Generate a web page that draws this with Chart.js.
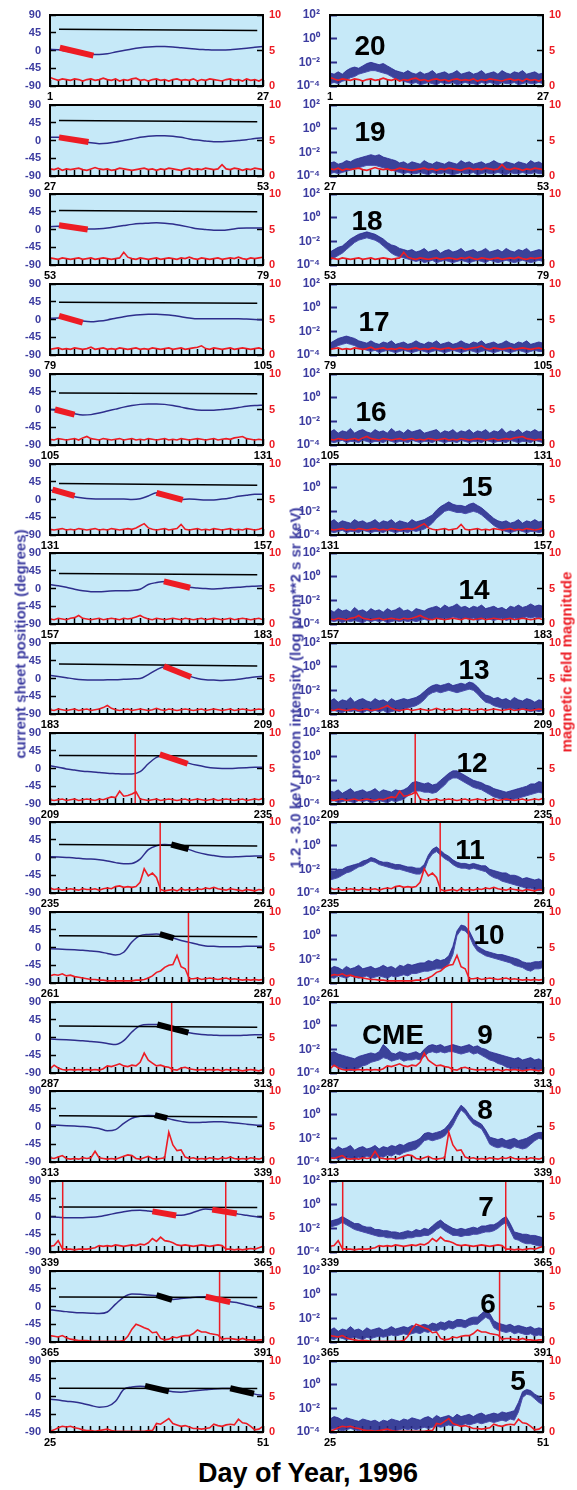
<!DOCTYPE html>
<html><head><meta charset="utf-8">
<script src="https://cdn.jsdelivr.net/npm/chart.js@4.4.1/dist/chart.umd.min.js"></script>
<style>
html,body{margin:0;padding:0;background:#fff;}
body{width:577px;height:1490px;position:relative;overflow:hidden;font-family:'Liberation Sans',Arial,sans-serif;}
canvas{position:absolute;}
.num{position:absolute;z-index:5;font-weight:bold;font-size:28px;color:#000;transform:translate(-50%,-50%);line-height:1;white-space:nowrap;}
.vt{position:absolute;z-index:5;font-weight:bold;font-size:15px;line-height:1;white-space:nowrap;transform:translate(-50%,-50%) rotate(-90deg);}
.xt{position:absolute;z-index:5;font-weight:bold;font-size:27px;line-height:1;color:#000;white-space:nowrap;transform:translate(-50%,-50%);}
</style></head><body>
<script>
// ---------------- DATA ----------------
const START_DAYS = [1,27,53,79,105,131,157,183,209,235,261,287,313,339,365,25];
const PANEL_NUMBERS = ['20','19','18','17','16','15','14','13','12','11','10','9','8','7','6','5'];
const LEFT_TICKS = [-90,-45,0,45,90];
const B_TICKS = [0,5,10];
const LOG_TICK_VALUES = [1e-4,1e-2,1,100];
const LOG_TICK_LABELS = ['10\u207B\u2074','10\u207B\u00B2','10\u2070','10\u00B2'];

// current sheet position (degrees), one value per day (day offset 0..26)
const SHEET = [
 [3,2,-2,-5,-8,-10,-10,-8,-4,0, 4,7,9,10,10,9,7,5,3,2, 1,1,2,4,6,8,10],
 [8,8,6,2,-2,-6,-8,-7,-4,0, 4,8,11,12,12,11,8,4,1,-1, -3,-3,-2,0,2,5,7],
 [7,8,8,5,2,1,2,4,7,10, 13,15,16,17,16,14,10,6,2,0, -2,-2,0,3,4,4,4],
 [3,4,3,0,-4,-6,-4,-1,3,7, 10,12,13,13,12,10,7,4,2,2, 2,2,2,2,1,0,-1],
 [0,-2,-6,-11,-14,-13,-9,-4,1,6, 10,13,14,14,13,10,6,2,-1,-2, -2,0,2,5,8,10,11],
 [24,20,14,7,4,2,1,1,1,1, 0,2,9,17,11,5,0,1,0,-1, -1,1,4,8,11,13,13],
 [10,7,3,-2,-6,-8,-8,-7,-6,-6, -5,-2,10,15,18,13,8,3,1,0, -1,0,2,3,5,6,7],
 [8,5,2,-1,-3,-4,-4,-3,-3,-2, -1,0,10,22,30,24,15,6,0,-3, -4,-5,-4,-2,1,4,6],
 [7,3,-1,-4,-7,-8,-10,-12,-13,-14, -14,-8,12,28,35,28,20,13,8,4, 1,0,0,1,2,3,3],
 [2,1,0,-1,-3,-4,-6,-9,-13,-16, -15,-4,20,30,33,32,26,20,13,8, 5,2,1,2,3,4,4],
 [-3,-4,-5,-6,-7,-9,-11,-15,-19,-12, 14,30,33,34,30,24,18,13,8,4, 3,2,2,2,3,3,3],
 [-4,-5,-6,-7,-8,-10,-12,-15,-18,-8, 14,30,33,33,28,22,16,12,9,7, 6,5,5,5,6,7,7],
 [4,3,2,1,0,-2,-5,-11,-8,8, 21,26,28,27,23,17,13,10,10,11, 12,12,10,8,6,4,3],
 [-1,-2,-3,-3,-3,-2,0,4,8,12, 15,16,14,11,7,3,3,7,14,19, 17,14,10,6,3,0,-3],
 [-8,-11,-13,-15,-16,-17,-18,-14,6,24, 32,31,29,27,21,18,20,22,24,25, 22,17,12,9,4,-1,-5],
 [-7,-9,-12,-14,-18,-23,-27,-25,-12,18, 24,26,25,21,16,12,11,13,15,17, 19,20,20,16,11,6,3]
];

// black reference line: value at start / end (degrees), from day offset LAT_FROM to LAT_TO
const LAT_FROM = 1.1, LAT_TO = 25.3;
const LAT_START = [53.6,50.5,48,44,42,40.5,38,36.5,33,33,30,29,27,24,24,21];
const LAT_END   = [50.4,47.5,45,41,40,36,35,32,31.5,29,27.5,26,24,23,23,20];

// thick segments: [dayFrom, degFrom, dayTo, degTo, kind]  (r = red, k = black)
const SEGMENTS = [
 [[1.2,7,5.3,-13,'r']],
 [[1.1,8,4.7,-4,'r']],
 [[1.1,11,4.6,0,'r']],
 [[1.1,9,4.0,-8,'r']],
 [[0.6,0,3.0,-13,'r']],
 [[0.3,25,3.0,9,'r'],[13.0,17,16.2,-1,'r']],
 [[13.9,18,17.1,2,'r']],
 [[13.9,31,17.2,4,'r']],
 [[13.4,36,16.8,12,'r']],
 [[14.8,33,16.9,21,'k']],
 [[13.4,34,15.1,24,'k']],
 [[13.1,33,16.9,12.5,'k']],
 [[12.8,29,14.3,21,'k']],
 [[12.5,13,15.4,2.5,'r'],[19.8,17.5,22.8,7.5,'r']],
 [[13.0,29,14.9,17,'k'],[19.0,25,22.0,11,'r']],
 [[11.6,27,14.5,13,'k'],[22.0,21,24.9,7,'k']]
];

// red vertical markers (day offset)
const VLINES = [[],[],[],[],[],[],[],[],[10.4],[13.45],[16.9],[14.85],[],[1.55,21.45],[20.7],[]];

// magnetic field magnitude, two values per day (offset 0, 0.5, ... 26)
const BMAG = [
 [1.2,1.0,0.8,1.0,0.9,0.8,1.0,0.9,0.7,0.9, 1.0,0.8,0.9,1.1,0.9,0.8,1.0,0.7,0.9,0.8, 1.0,1.1,0.8,0.9,0.7,0.9,1.0,0.8,0.9,0.7, 0.9,1.0,0.8,0.9,0.8,1.0,0.7,0.9,0.8,1.0, 0.9,0.8,0.7,0.9,1.0,0.8,0.9,0.7,1.0,0.8, 0.9,0.7,1.0],
 [1.0,0.9,1.1,0.8,1.0,0.9,1.0,1.1,0.9,0.8, 1.0,1.2,1.0,0.9,1.0,0.8,0.9,1.1,1.0,0.9, 0.8,0.9,1.0,1.1,0.9,1.0,0.8,1.0,0.9,1.1, 1.0,0.9,0.8,1.0,1.1,0.9,1.0,0.9,1.1,1.0, 0.9,1.0,1.6,1.0,0.9,1.1,1.0,0.8,1.0,0.9, 1.1,1.0,0.9],
 [1.0,0.9,0.8,1.0,0.9,0.8,0.9,1.0,0.8,0.9, 1.0,0.8,0.9,1.0,0.9,0.8,0.9,1.0,1.8,1.1, 0.9,0.8,1.0,0.9,0.8,0.9,1.0,0.8,0.9,1.0, 0.9,0.8,1.0,0.9,1.1,0.9,0.8,1.0,0.9,0.8, 0.9,1.0,0.8,0.9,1.0,0.9,1.1,0.9,0.8,1.0, 0.9,1.0,1.1],
 [0.8,0.9,1.0,0.8,0.9,0.8,1.0,0.9,0.8,0.9, 1.1,0.8,0.9,1.0,0.8,0.9,0.8,1.0,0.9,0.8, 0.9,1.0,0.8,0.9,0.8,1.0,0.9,0.8,0.9,1.0, 0.8,0.9,1.0,0.8,0.9,1.0,1.1,1.3,0.9,0.8, 1.0,0.9,0.8,0.9,1.0,0.8,0.9,1.0,0.9,0.8, 0.9,1.0,0.8],
 [0.8,0.7,0.9,0.8,0.7,0.8,0.9,0.7,1.0,1.2, 0.9,0.8,0.7,0.9,0.8,0.7,0.8,0.9,0.7,0.8, 0.9,0.7,0.8,0.7,0.9,0.8,0.7,0.8,0.9,0.7, 0.8,0.7,0.9,0.8,0.7,0.8,0.9,0.8,0.7,0.8, 0.9,0.7,0.8,0.9,0.8,1.0,1.1,1.2,0.9,0.8, 0.7,0.8,0.7],
 [0.8,0.7,0.8,0.9,0.7,0.8,0.7,0.9,0.8,0.7, 0.8,0.9,0.7,0.8,0.7,0.9,0.8,0.7,0.8,0.9, 0.8,1.0,1.3,1.6,1.0,0.8,0.7,0.8,0.9,0.7, 0.8,0.9,1.5,0.8,0.7,0.8,0.9,0.7,0.8,0.7, 0.9,0.8,0.7,0.8,0.9,0.7,0.8,0.7,0.9,0.8, 0.7,0.8,1.0],
 [0.7,0.6,0.8,0.7,0.6,0.8,0.9,1.2,0.8,0.7, 0.6,0.7,0.8,0.6,0.7,0.8,0.7,0.6,0.8,0.7, 0.8,1.0,1.2,0.9,0.7,0.6,0.8,0.7,0.6,0.7, 0.8,0.7,0.6,0.8,0.7,0.6,0.7,0.8,0.6,0.7, 0.8,0.7,0.6,0.7,0.8,0.6,0.7,0.8,0.7,0.6, 0.7,0.8,0.6],
 [0.6,0.5,0.7,0.6,0.5,0.6,0.7,0.5,0.6,0.7, 0.5,0.6,0.7,0.9,1.2,0.8,0.6,0.5,0.6,0.7, 0.5,0.6,0.7,0.6,0.5,0.6,0.8,0.6,0.5,0.7, 0.6,0.5,0.6,0.7,0.6,0.5,0.6,0.7,0.5,0.6, 0.7,0.6,0.5,0.6,0.7,0.5,0.6,0.7,0.6,0.5, 0.6,0.7,0.6],
 [0.6,0.5,0.6,0.7,0.5,0.6,0.7,0.5,0.6,0.7, 0.6,0.5,0.7,0.6,0.8,1.0,0.9,1.8,1.1,1.2, 1.4,1.7,0.7,0.6,0.5,0.6,0.7,0.5,0.6,0.7, 0.6,0.5,0.6,0.7,0.5,0.6,0.7,0.6,0.5,0.6, 0.7,0.5,0.6,0.7,0.6,0.5,0.6,0.7,0.5,0.6, 0.7,0.6,0.8],
 [0.7,0.5,0.6,0.4,0.5,0.6,0.5,0.4,0.6,0.5, 0.5,0.6,0.4,0.6,0.7,0.6,0.9,1.0,0.8,0.9, 0.8,0.9,1.5,3.4,2.4,2.8,2.2,0.5,0.3,0.4, 0.5,0.3,0.6,0.4,0.5,0.4,0.6,0.5,0.7,0.6, 0.8,0.6,0.5,0.4,0.6,0.5,0.4,0.3,0.5,0.4, 0.3,0.5,0.4],
 [1.0,1.2,1.1,1.3,1.0,1.1,0.9,0.8,0.7,0.6, 0.5,0.5,0.4,0.4,0.3,0.3,0.3,0.3,0.3,0.3, 0.3,0.4,0.4,0.5,0.7,1.0,1.5,1.7,2.2,2.5, 2.6,3.9,2.3,2.0,0.6,0.6,0.7,0.5,0.6,0.7, 0.6,0.5,0.6,0.7,0.5,0.6,0.5,0.4,0.5,0.4, 0.5,0.4,0.5],
 [0.6,1.1,0.7,0.5,0.4,0.5,0.4,0.5,0.4,0.5, 0.4,0.5,0.4,0.6,1.0,0.9,1.1,1.3,1.0,0.9, 1.1,1.0,1.5,2.8,1.8,1.4,1.0,1.1,0.9,0.8, 0.5,0.4,0.7,0.8,0.6,0.5,0.4,0.5,0.4,0.5, 0.4,0.5,0.3,0.5,0.4,0.5,0.4,0.3,0.4,0.5, 0.4,0.3,0.5],
 [0.6,0.5,0.7,0.9,0.5,0.4,0.5,0.4,0.6,0.5, 0.6,1.5,0.6,0.5,0.4,0.5,0.4,0.6,0.8,1.0, 0.9,0.5,0.4,0.6,0.8,0.5,0.4,0.5,0.6,4.2, 2.4,1.6,1.7,0.7,0.5,0.6,0.4,0.5,0.4,0.6, 0.5,0.4,0.6,0.5,0.7,0.5,0.4,0.5,0.4,0.6, 0.5,0.4,0.6],
 [0.8,0.9,1.6,0.5,0.4,0.4,0.3,0.4,0.4,0.4, 0.5,0.6,0.9,0.8,0.9,0.8,1.0,0.9,0.8,0.9, 1.0,0.9,1.1,1.0,1.3,1.9,1.5,2.1,1.6,1.5, 1.3,1.0,0.9,1.0,0.9,0.8,0.9,1.0,0.9,0.8, 0.9,1.0,0.9,0.4,0.4,0.3,0.4,0.3,0.4,0.5, 0.4,0.6,0.8],
 [0.9,0.8,0.7,0.9,0.6,0.4,0.3,0.2,0.2,0.2, 0.1,0.1,0.1,0.1,0.1,0.1,0.1,0.1,0.2,0.8, 1.8,2.5,2.3,2.0,1.8,1.3,1.4,0.5,0.3,0.4, 0.7,0.6,0.8,0.9,0.9,1.2,1.7,1.4,1.4,1.2, 1.1,1.0,0.4,0.5,0.5,0.4,0.3,0.5,0.3,0.3, 0.2,0.3,0.3],
 [0.1,0.3,0.6,0.8,0.7,0.8,0.6,0.5,0.3,0.2, 0.2,0.1,0.2,0.3,0.4,0.2,0.1,0.1,0.1,0.1, 0.1,0.1,0.1,0.1,0.2,0.2,1.2,1.1,1.5,1.9, 1.2,1.0,0.8,0.9,0.7,0.5,0.5,0.4,0.5,0.6, 1.1,0.9,0.8,1.0,1.1,1.0,1.8,1.3,1.2,0.8, 0.3,0.4,0.8]
];

// 1.2-3.0 keV proton intensity, log10 upper / lower envelope, two values per day
const INT_HI = [
 [-2.9,-3.0,-2.8,-3.0,-2.7,-2.5,-2.4,-2.5,-2.3,-2.1, -2.0,-2.1,-2.2,-2.1,-2.3,-2.5,-2.7,-2.8,-2.9,-2.7, -2.9,-3.0,-2.8,-3.0,-2.9,-2.7,-3.0,-2.9,-2.8,-3.0, -2.9,-2.7,-3.0,-2.9,-2.8,-3.0,-2.9,-2.7,-3.0,-2.9, -2.8,-3.0,-2.7,-2.9,-3.0,-2.8,-2.9,-2.7,-3.0,-2.9, -2.8,-3.0,-2.9],
 [-2.9,-2.8,-3.0,-2.9,-2.7,-2.8,-2.6,-2.5,-2.4,-2.3, -2.2,-2.3,-2.2,-2.4,-2.5,-2.6,-2.7,-2.9,-2.8,-3.0, -2.8,-2.9,-3.0,-2.7,-2.9,-3.0,-2.8,-2.9,-3.0,-2.8, -2.9,-3.0,-2.7,-2.9,-2.8,-3.0,-2.9,-2.8,-3.0,-2.9, -2.7,-2.9,-3.0,-2.8,-2.9,-3.0,-2.8,-2.9,-3.0,-2.7, -2.9,-2.8,-3.0],
 [-2.9,-2.7,-2.5,-2.4,-2.1,-1.8,-1.6,-1.4,-1.3,-1.2, -1.3,-1.4,-1.6,-1.8,-2.1,-2.3,-2.4,-2.6,-2.7,-2.8, -2.7,-2.9,-2.8,-2.6,-2.9,-2.8,-2.7,-3.0,-2.8,-2.7, -2.9,-2.8,-2.6,-2.9,-2.8,-2.7,-2.9,-2.8,-2.6,-2.9, -2.8,-2.7,-2.9,-2.6,-2.8,-2.9,-2.7,-2.8,-2.6,-2.9, -2.8,-2.7,-2.8],
 [-3.0,-2.8,-2.6,-2.5,-2.4,-2.5,-2.6,-2.8,-2.9,-3.0, -2.8,-3.0,-3.1,-2.9,-3.0,-2.8,-3.1,-3.0,-2.9,-3.1, -3.0,-2.8,-3.0,-3.1,-2.9,-3.0,-2.8,-3.1,-3.0,-2.9, -3.1,-3.0,-2.8,-3.0,-3.1,-2.9,-3.0,-2.8,-3.1,-3.0, -2.9,-3.1,-3.0,-2.8,-3.0,-3.1,-2.9,-3.0,-2.8,-3.1, -3.0,-2.9,-3.0],
 [-2.9,-2.7,-3.0,-2.8,-2.9,-2.6,-3.0,-2.8,-2.7,-2.9, -3.0,-2.7,-2.9,-2.8,-3.0,-2.6,-2.9,-2.8,-3.0,-2.7, -2.9,-2.8,-2.7,-3.0,-2.9,-2.8,-2.7,-3.0,-2.8,-2.9, -2.7,-3.0,-2.8,-2.9,-2.7,-3.0,-2.8,-2.9,-2.7,-3.0, -2.8,-2.9,-2.6,-3.0,-2.8,-2.9,-2.7,-3.0,-2.8,-2.9, -2.7,-2.9,-2.8],
 [-2.9,-2.7,-3.0,-2.8,-2.9,-3.0,-2.7,-2.9,-2.8,-3.0, -2.9,-2.7,-3.0,-2.8,-2.9,-2.7,-3.0,-2.8,-2.9,-3.0, -2.7,-2.9,-2.8,-2.7,-2.5,-2.3,-1.9,-1.6,-1.4,-1.2, -1.4,-1.5,-1.5,-1.6,-1.4,-1.3,-1.5,-1.7,-2.0,-2.3, -2.6,-2.8,-2.9,-2.8,-3.0,-2.9,-2.7,-3.0,-2.8,-2.9, -2.7,-2.9,-2.8],
 [-2.8,-3.0,-2.7,-2.9,-2.8,-3.0,-2.6,-2.9,-2.8,-3.0, -2.7,-2.9,-2.8,-3.0,-2.7,-2.9,-2.8,-2.6,-2.9,-2.8, -3.0,-2.7,-2.8,-2.9,-2.7,-2.6,-2.5,-2.7,-2.4,-2.6, -2.5,-2.3,-2.6,-2.5,-2.7,-2.5,-2.6,-2.4,-2.7,-2.6, -2.5,-2.7,-2.6,-2.8,-2.5,-2.6,-2.4,-2.6,-2.5,-2.3, -2.5,-2.4,-2.5],
 [-2.9,-2.7,-3.0,-2.8,-2.9,-2.6,-3.0,-2.8,-2.7,-2.9, -3.0,-2.7,-2.9,-2.8,-3.0,-2.7,-2.9,-2.8,-2.7,-2.8, -2.7,-2.6,-2.4,-2.1,-1.8,-1.6,-1.5,-1.6,-1.5,-1.4, -1.6,-1.5,-1.4,-1.5,-1.3,-1.4,-1.7,-2.1,-2.4,-2.5, -2.7,-2.6,-2.8,-2.7,-2.9,-2.6,-2.8,-2.9,-2.7,-2.8, -3.0,-2.8,-2.9],
 [-2.9,-3.0,-2.8,-3.1,-2.9,-2.7,-3.0,-2.9,-2.8,-3.0, -2.9,-2.7,-3.0,-2.8,-2.9,-3.0,-2.8,-2.9,-2.8,-2.6, -2.2,-2.1,-2.2,-2.3,-2.2,-2.4,-2.3,-2.0,-1.7,-1.4, -1.2,-1.2,-1.4,-1.6,-1.8,-2.0,-2.1,-2.2,-2.4,-2.5, -2.7,-2.8,-2.9,-3.0,-2.9,-2.8,-2.7,-2.6,-2.5,-2.3, -2.3,-2.1,-2.2],
 [-2.1,-2.2,-2.0,-2.0,-1.8,-1.7,-1.6,-1.5,-1.3,-1.2, -1.0,-1.1,-1.3,-1.4,-1.4,-1.5,-1.6,-1.6,-1.7,-1.8, -1.8,-1.9,-1.9,-1.6,-0.8,-0.3,-0.1,-0.4,-0.7,-0.9, -1.2,-1.4,-1.5,-1.5,-1.6,-1.5,-1.6,-1.7,-1.7,-2.0, -2.1,-2.2,-2.3,-2.3,-2.5,-2.5,-2.6,-2.8,-2.7,-2.8, -2.9,-2.8,-3.0],
 [-2.8,-2.6,-2.7,-2.9,-2.6,-2.8,-2.7,-2.5,-2.8,-2.7, -2.6,-2.8,-2.7,-2.5,-2.7,-2.6,-2.8,-2.5,-2.6,-2.4, -2.5,-2.4,-2.3,-2.3,-2.1,-2.2,-2.0,-2.1,-2.0,-1.7, -0.9,0.4,0.9,0.8,0.4,-0.3,-0.9,-1.1,-1.3,-1.4, -1.5,-1.6,-1.6,-1.7,-1.8,-1.9,-2.0,-2.2,-2.3,-2.3, -2.2,-2.2,-2.1],
 [-2.3,-2.2,-2.4,-2.5,-2.6,-2.7,-2.8,-2.6,-2.5,-2.4, -2.3,-2.4,-2.2,-1.6,-1.9,-2.3,-2.4,-2.2,-2.3,-2.4, -2.3,-2.2,-2.4,-2.0,-1.7,-1.6,-1.7,-1.6,-1.8,-1.7, -1.6,-1.7,-1.8,-1.7,-1.6,-1.8,-1.7,-1.9,-2.0,-2.2, -2.3,-2.4,-2.5,-2.6,-2.7,-2.8,-2.7,-2.9,-2.8,-2.7, -2.9,-2.8,-3.0],
 [-2.8,-3.0,-2.7,-2.9,-2.8,-2.6,-3.0,-2.8,-2.7,-2.9, -2.8,-2.6,-2.9,-2.7,-2.8,-2.6,-2.7,-2.5,-2.6,-2.4, -2.3,-2.2,-2.0,-1.6,-1.5,-1.6,-1.5,-1.4,-1.2,-0.8, -0.3,0.3,0.8,0.5,0.0,-0.4,-0.6,-0.8,-1.3,-1.9, -2.0,-2.1,-2.0,-2.2,-2.1,-2.0,-2.2,-2.1,-2.0,-1.8, -1.6,-1.5,-1.5],
 [-1.4,-1.3,-1.2,-1.0,-1.2,-1.4,-1.6,-1.6,-1.8,-1.9, -1.9,-2.1,-2.1,-2.2,-2.2,-2.3,-2.3,-2.4,-2.3,-2.2, -2.3,-2.1,-2.2,-2.0,-2.1,-1.8,-1.5,-1.3,-1.6,-1.8, -2.0,-2.1,-2.0,-2.1,-2.0,-1.9,-2.0,-1.8,-1.8,-1.7, -1.7,-1.5,-1.2,-1.0,-1.6,-2.3,-2.4,-2.5,-2.5,-2.6, -2.6,-2.7,-2.8],
 [-3.0,-2.8,-3.1,-2.9,-3.0,-2.7,-3.0,-2.9,-3.1,-2.8, -3.0,-2.9,-2.8,-3.0,-2.9,-2.7,-2.9,-2.8,-2.7,-2.8, -2.6,-2.7,-2.6,-2.5,-2.6,-2.4,-2.5,-2.3,-2.4,-2.2, -2.3,-2.1,-2.1,-2.2,-2.0,-1.9,-1.9,-1.6,-1.3,-1.6, -2.2,-2.4,-2.5,-2.6,-2.5,-2.7,-2.6,-2.7,-2.8,-2.7, -2.9,-2.8,-2.9],
 [-2.9,-2.7,-2.8,-3.0,-2.8,-2.9,-3.0,-3.1,-2.9,-3.0, -3.1,-3.0,-3.2,-3.0,-3.1,-2.9,-3.0,-3.1,-2.9,-3.0, -2.8,-2.9,-3.0,-2.8,-2.7,-2.9,-2.6,-2.8,-2.7,-2.6, -2.8,-2.5,-2.7,-2.6,-2.5,-2.7,-2.5,-2.4,-2.6,-2.5, -2.4,-2.5,-2.3,-2.4,-2.3,-2.2,-1.5,-0.6,-0.4,-0.5, -0.8,-1.0,-1.3]
];
const INT_LO = [
 [-3.8,-3.7,-3.8,-3.6,-3.5,-3.3,-3.2,-3.0,-2.9,-2.8, -2.7,-2.7,-2.8,-2.9,-3.0,-3.2,-3.4,-3.5,-3.6,-3.7, -3.8,-3.7,-3.9,-3.8,-3.7,-3.8,-3.9,-3.7,-3.8,-3.8, -3.7,-3.9,-3.8,-3.7,-3.8,-3.8,-3.9,-3.7,-3.8,-3.7, -3.8,-3.9,-3.7,-3.8,-3.8,-3.7,-3.9,-3.8,-3.7,-3.8, -3.8,-3.7,-3.8],
 [-3.8,-3.7,-3.8,-3.7,-3.6,-3.5,-3.4,-3.3,-3.2,-3.1, -3.1,-3.1,-3.2,-3.3,-3.4,-3.5,-3.6,-3.7,-3.8,-3.7, -3.8,-3.8,-3.7,-3.8,-3.9,-3.7,-3.8,-3.8,-3.7,-3.8, -3.9,-3.8,-3.7,-3.8,-3.8,-3.7,-3.9,-3.8,-3.7,-3.8, -3.8,-3.7,-3.8,-3.9,-3.7,-3.8,-3.8,-3.7,-3.8,-3.8, -3.7,-3.8,-3.8],
 [-3.6,-3.4,-3.2,-3.0,-2.7,-2.4,-2.1,-1.9,-1.8,-1.7, -1.8,-1.9,-2.1,-2.4,-2.7,-3.0,-3.2,-3.3,-3.4,-3.5, -3.6,-3.7,-3.6,-3.8,-3.7,-3.6,-3.8,-3.7,-3.6,-3.7, -3.8,-3.7,-3.6,-3.7,-3.8,-3.7,-3.6,-3.7,-3.8,-3.6, -3.7,-3.8,-3.7,-3.6,-3.7,-3.8,-3.7,-3.6,-3.7,-3.8, -3.7,-3.6,-3.7],
 [-3.6,-3.4,-3.2,-3.1,-3.0,-3.1,-3.2,-3.4,-3.5,-3.6, -3.7,-3.6,-3.8,-3.7,-3.6,-3.7,-3.8,-3.7,-3.6,-3.7, -3.8,-3.7,-3.6,-3.7,-3.8,-3.7,-3.6,-3.7,-3.8,-3.7, -3.6,-3.7,-3.8,-3.7,-3.6,-3.7,-3.8,-3.7,-3.6,-3.7, -3.8,-3.7,-3.6,-3.7,-3.8,-3.7,-3.6,-3.7,-3.8,-3.7, -3.6,-3.7,-3.7],
 [-3.7,-3.8,-3.7,-3.6,-3.8,-3.7,-3.7,-3.8,-3.6,-3.7, -3.8,-3.7,-3.7,-3.8,-3.6,-3.7,-3.8,-3.7,-3.7,-3.8, -3.6,-3.7,-3.8,-3.7,-3.7,-3.8,-3.6,-3.7,-3.8,-3.7, -3.7,-3.8,-3.6,-3.7,-3.8,-3.7,-3.7,-3.8,-3.6,-3.7, -3.8,-3.7,-3.7,-3.8,-3.6,-3.7,-3.8,-3.7,-3.7,-3.8, -3.6,-3.7,-3.8],
 [-3.7,-3.8,-3.7,-3.6,-3.8,-3.7,-3.7,-3.8,-3.6,-3.7, -3.8,-3.7,-3.7,-3.8,-3.6,-3.7,-3.8,-3.7,-3.7,-3.8, -3.6,-3.7,-3.6,-3.5,-3.3,-3.0,-2.6,-2.3,-2.0,-1.9, -2.0,-2.1,-2.1,-2.2,-2.1,-2.0,-2.1,-2.3,-2.6,-2.9, -3.2,-3.4,-3.6,-3.7,-3.8,-3.7,-3.6,-3.7,-3.8,-3.7, -3.7,-3.8,-3.7],
 [-3.7,-3.8,-3.7,-3.9,-3.7,-3.8,-3.7,-3.8,-3.9,-3.7, -3.8,-3.7,-3.8,-3.7,-3.9,-3.8,-3.7,-3.8,-3.7,-3.8, -3.7,-3.8,-3.7,-3.6,-3.7,-3.6,-3.5,-3.6,-3.5,-3.6, -3.4,-3.5,-3.6,-3.5,-3.6,-3.5,-3.7,-3.6,-3.5,-3.6, -3.7,-3.6,-3.5,-3.7,-3.6,-3.5,-3.6,-3.5,-3.4,-3.5, -3.4,-3.5,-3.4],
 [-3.8,-3.7,-3.8,-3.9,-3.7,-3.8,-3.7,-3.8,-3.9,-3.7, -3.8,-3.7,-3.8,-3.7,-3.9,-3.8,-3.7,-3.8,-3.6,-3.5, -3.4,-3.3,-3.1,-2.8,-2.4,-2.2,-2.1,-2.2,-2.1,-2.0, -2.1,-2.2,-2.1,-2.0,-1.9,-2.0,-2.3,-2.7,-3.0,-3.1, -3.3,-3.4,-3.5,-3.6,-3.5,-3.6,-3.7,-3.6,-3.7,-3.8, -3.7,-3.8,-3.7],
 [-3.8,-3.7,-3.9,-3.8,-3.7,-3.8,-3.9,-3.7,-3.8,-3.7, -3.9,-3.8,-3.7,-3.8,-3.9,-3.7,-3.8,-3.7,-3.6,-3.3, -3.0,-2.9,-2.9,-3.0,-3.0,-3.1,-3.0,-2.7,-2.4,-2.0, -1.8,-1.8,-2.0,-2.2,-2.4,-2.6,-2.7,-2.8,-3.0,-3.2, -3.4,-3.5,-3.6,-3.7,-3.7,-3.6,-3.5,-3.4,-3.3,-3.2, -3.1,-3.0,-3.1],
 [-2.9,-2.8,-2.7,-2.5,-2.3,-2.2,-2.0,-1.8,-1.7,-1.5, -1.3,-1.4,-1.6,-1.7,-1.8,-1.9,-2.0,-2.0,-2.1,-2.2, -2.3,-2.4,-2.4,-2.1,-1.2,-0.7,-0.5,-0.8,-1.1,-1.3, -1.6,-1.8,-1.9,-1.9,-2.0,-1.9,-2.0,-2.1,-2.2,-2.5, -2.7,-2.8,-3.0,-3.1,-3.2,-3.3,-3.4,-3.5,-3.6,-3.6, -3.7,-3.8,-3.7],
 [-3.5,-3.6,-3.4,-3.5,-3.6,-3.4,-3.5,-3.6,-3.5,-3.4, -3.6,-3.5,-3.4,-3.5,-3.6,-3.4,-3.5,-3.4,-3.3,-3.4, -3.2,-3.2,-3.1,-3.0,-3.0,-2.9,-2.8,-2.8,-2.7,-2.4, -1.6,0.0,0.5,0.4,0.0,-0.8,-1.3,-1.5,-1.7,-1.8, -1.9,-2.0,-2.1,-2.2,-2.3,-2.5,-2.6,-2.7,-2.9,-3.0, -2.8,-2.8,-2.7],
 [-3.3,-3.4,-3.5,-3.6,-3.7,-3.8,-3.7,-3.6,-3.4,-3.3, -3.1,-3.0,-2.9,-2.7,-2.8,-3.0,-2.9,-2.8,-3.0,-2.9, -2.9,-2.8,-2.9,-2.6,-2.3,-2.2,-2.3,-2.2,-2.3,-2.2, -2.2,-2.3,-2.4,-2.3,-2.2,-2.4,-2.3,-2.5,-2.7,-2.9, -3.0,-3.2,-3.3,-3.5,-3.6,-3.7,-3.6,-3.8,-3.7,-3.6, -3.8,-3.7,-3.8],
 [-3.7,-3.6,-3.8,-3.7,-3.6,-3.7,-3.8,-3.6,-3.7,-3.5, -3.6,-3.7,-3.5,-3.6,-3.4,-3.5,-3.3,-3.4,-3.2,-3.1, -3.0,-2.9,-2.6,-2.2,-2.1,-2.2,-2.1,-2.0,-1.8,-1.4, -0.9,-0.2,0.4,0.1,-0.4,-0.8,-1.0,-1.2,-1.8,-2.5, -2.7,-2.8,-2.7,-2.8,-2.9,-2.7,-2.8,-2.9,-2.8,-2.5, -2.2,-2.0,-2.1],
 [-1.9,-1.8,-1.7,-1.5,-1.7,-1.9,-2.1,-2.2,-2.3,-2.4, -2.5,-2.6,-2.7,-2.7,-2.8,-2.8,-2.9,-2.9,-2.9,-2.8, -2.8,-2.7,-2.7,-2.6,-2.6,-2.4,-2.1,-1.9,-2.2,-2.4, -2.6,-2.6,-2.7,-2.6,-2.6,-2.5,-2.5,-2.4,-2.3,-2.3, -2.2,-2.0,-1.7,-1.5,-2.2,-2.9,-3.0,-3.2,-3.3,-3.3, -3.4,-3.5,-3.5],
 [-3.7,-3.8,-3.6,-3.7,-3.8,-3.7,-3.6,-3.7,-3.8,-3.6, -3.7,-3.6,-3.5,-3.6,-3.5,-3.4,-3.5,-3.4,-3.3,-3.4, -3.3,-3.2,-3.3,-3.1,-3.2,-3.0,-3.1,-2.9,-3.0,-2.8, -2.9,-2.7,-2.7,-2.8,-2.6,-2.5,-2.5,-2.2,-1.9,-2.1, -2.8,-3.0,-3.1,-3.2,-3.1,-3.3,-3.2,-3.3,-3.4,-3.3, -3.5,-3.4,-3.5],
 [-3.8,-3.7,-3.8,-3.9,-3.8,-3.7,-3.8,-3.9,-3.8,-3.9, -3.8,-3.9,-3.9,-3.8,-3.9,-3.8,-3.9,-3.8,-3.7,-3.8, -3.7,-3.8,-3.7,-3.6,-3.7,-3.6,-3.5,-3.6,-3.5,-3.4, -3.5,-3.4,-3.5,-3.3,-3.4,-3.3,-3.2,-3.3,-3.2,-3.1, -3.2,-3.1,-3.0,-3.1,-2.9,-3.0,-2.3,-1.1,-0.8,-0.9, -1.2,-1.5,-1.7]
];

// ---------------- LAYOUT / STYLE ----------------
const TOP0 = 15, PITCH = 89.7, PH = 71, PADT = 12, XAXH = 18;
const LABEL_POS = [[370,31],[370,27],[367,27],[374,38],[371,38],[477,23],[474,37],[474,27],[472,30],[470,28],[489,23],[485,33],[485,19],[486,26],[488,33],[518,20]];
const BG = '#c6e9f8', NAVY = '#2e2e8c', LBLUE = '#3c3ca0', RED = '#ed1c24';
const TICK_FONT = { size: 11, weight: 'bold' };
Chart.defaults.font.family = "'Liberation Sans', Arial, sans-serif";

const panelPlugin = {
  id: 'panelFrame',
  beforeDraw(chart) {
    const a = chart.chartArea, c = chart.ctx;
    c.save(); c.fillStyle = BG; c.fillRect(a.left, a.top, a.right - a.left, a.bottom - a.top); c.restore();
  },
  afterDraw(chart) {
    const a = chart.chartArea, c = chart.ctx;
    c.save(); c.strokeStyle = '#000'; c.lineWidth = 2;
    c.strokeRect(a.left, a.top, a.right - a.left, a.bottom - a.top); c.restore();
  }
};

function xScale(start) {
  return {
    type: 'linear', position: 'bottom', min: start, max: start + 26,
    ticks: { stepSize: 1, autoSkip: false, maxTicksLimit: 100, maxRotation: 0, minRotation: 0, padding: 10,
      color: '#000', font: TICK_FONT,
      callback: (v) => (v === start || v === start + 26) ? String(v) : '' },
    grid: { drawOnChartArea: false, drawTicks: true, tickLength: -6, tickColor: '#000', tickWidth: 1.5 },
    border: { display: false },
    afterFit: (s) => { s.height = XAXH; s.paddingLeft = 0; s.paddingRight = 0; }
  };
}
function bScale(width) {
  return {
    type: 'linear', position: 'right', min: 0, max: 10,
    afterBuildTicks: (s) => { s.ticks = B_TICKS.map(v => ({ value: v })); },
    ticks: { padding: 12, color: RED, font: TICK_FONT },
    grid: { drawOnChartArea: false, tickLength: -6, tickColor: '#000', tickWidth: 1.5 },
    border: { display: false },
    afterFit: (s) => { s.width = width; s.paddingTop = 0; s.paddingBottom = 0; }
  };
}
function halfDayPts(arr, start, log) {
  return arr.map((v, k) => ({ x: start + k / 2, y: log ? Math.pow(10, v) : v }));
}
function commonSets(r, start) {
  const sets = [];
  VLINES[r].forEach(d => sets.push({ data: [{ x: start + d, y: 0 }, { x: start + d, y: 10 }], yAxisID: 'yB',
    borderColor: RED, borderWidth: 1.5, order: 0 }));
  sets.push({ data: halfDayPts(BMAG[r], start, false), yAxisID: 'yB', borderColor: RED, borderWidth: 1.6, order: 3 });
  return sets;
}
function baseOptions(scales) {
  return {
    responsive: false, animation: false, devicePixelRatio: 1, events: [],
    layout: { padding: { top: PADT, bottom: 0, left: 0, right: 0 } },
    elements: { point: { radius: 0 }, line: { tension: 0, borderCapStyle: 'butt' } },
    plugins: { legend: { display: false }, tooltip: { enabled: false } },
    scales
  };
}
function makeCanvas(left, top, w, h) {
  const c = document.createElement('canvas');
  c.width = w; c.height = h;
  c.style.left = left + 'px'; c.style.top = top + 'px';
  c.style.width = w + 'px'; c.style.height = h + 'px';
  document.body.appendChild(c);
  return c;
}

for (let r = 0; r < START_DAYS.length; r++) {
  const start = START_DAYS[r];
  const top = TOP0 + r * PITCH;
  const ch = PADT + PH + XAXH;

  // ---- left panel: current sheet position ----
  const left = [];
  left.push(...commonSets(r, start));
  SEGMENTS[r].forEach(sg => left.push({ data: [{ x: start + sg[0], y: sg[1] }, { x: start + sg[2], y: sg[3] }],
    yAxisID: 'y', borderColor: sg[4] === 'r' ? RED : '#000', borderWidth: 6, order: 1 }));
  left.push({ data: [{ x: start + LAT_FROM, y: LAT_START[r] }, { x: start + LAT_TO, y: LAT_END[r] }], yAxisID: 'y',
    borderColor: '#000', borderWidth: 1.5, order: 2 });
  left.push({ data: SHEET[r].map((v, k) => ({ x: start + k, y: v })), yAxisID: 'y', borderColor: NAVY, borderWidth: 1.5,
    cubicInterpolationMode: 'monotone', order: 4 });
  new Chart(makeCanvas(0, top - PADT, 290, ch), {
    type: 'line', data: { datasets: left }, plugins: [panelPlugin],
    options: baseOptions({
      x: xScale(start),
      y: { type: 'linear', position: 'left', min: -90, max: 90,
        afterBuildTicks: (s) => { s.ticks = LEFT_TICKS.map(v => ({ value: v })); },
        ticks: { padding: 15, color: LBLUE, font: TICK_FONT },
        grid: { drawOnChartArea: false, tickLength: -6, tickColor: '#000', tickWidth: 1.5 },
        border: { display: false },
        afterFit: (s) => { s.width = 50; s.paddingTop = 0; s.paddingBottom = 0; } },
      yB: bScale(27)
    })
  });

  // ---- right panel: proton intensity ----
  const right = [];
  right.push({ data: halfDayPts(INT_HI[r], start, true), yAxisID: 'yL', borderColor: '#4a4cae', borderWidth: 1, fill: false, order: 5 });
  right.push({ data: halfDayPts(INT_LO[r], start, true), yAxisID: 'yL', borderColor: '#4a4cae', borderWidth: 1,
    fill: '-1', backgroundColor: 'rgba(40,42,140,0.88)', order: 4 });
  right.push(...commonSets(r, start));
  new Chart(makeCanvas(290, top - PADT, 287, ch), {
    type: 'line', data: { datasets: right }, plugins: [panelPlugin],
    options: baseOptions({
      x: xScale(start),
      yL: { type: 'logarithmic', position: 'left', min: 1e-4, max: 100,
        afterBuildTicks: (s) => { s.ticks = LOG_TICK_VALUES.map(v => ({ value: v })); },
        ticks: { padding: 17, color: LBLUE, font: { size: 12, weight: 'bold' },
          callback: (v) => LOG_TICK_LABELS[LOG_TICK_VALUES.indexOf(v)] },
        grid: { drawOnChartArea: false, tickLength: -7, tickColor: NAVY, tickWidth: 2 },
        border: { display: false },
        afterFit: (s) => { s.width = 40; s.paddingTop = 0; s.paddingBottom = 0; } },
      yB: bScale(34)
    })
  });

  // panel number
  const d = document.createElement('div');
  d.className = 'num'; d.textContent = PANEL_NUMBERS[r];
  d.style.left = LABEL_POS[r][0] + 'px'; d.style.top = (top + LABEL_POS[r][1]) + 'px';
  document.body.appendChild(d);
  if (PANEL_NUMBERS[r] === '9') {
    const e = document.createElement('div');
    e.className = 'num'; e.textContent = 'CME';
    e.style.left = '393px'; e.style.top = (top + 33) + 'px';
    document.body.appendChild(e);
  }
}

function addText(cls, txt, x, y, color) {
  const e = document.createElement('div');
  e.className = cls; e.textContent = txt;
  e.style.left = x + 'px'; e.style.top = y + 'px'; if (color) e.style.color = color;
  document.body.appendChild(e);
}
addText('vt', 'current sheet position (degrees)', 20, 644, LBLUE);
addText('vt', '1.2 - 3.0 keV proton intensity (log p/cm**2 s sr keV)', 295, 688, LBLUE);
addText('vt', 'magnetic field magnitude', 566, 662, RED);
addText('xt', 'Day of Year, 1996', 308, 1473);
</script>
</body></html>
